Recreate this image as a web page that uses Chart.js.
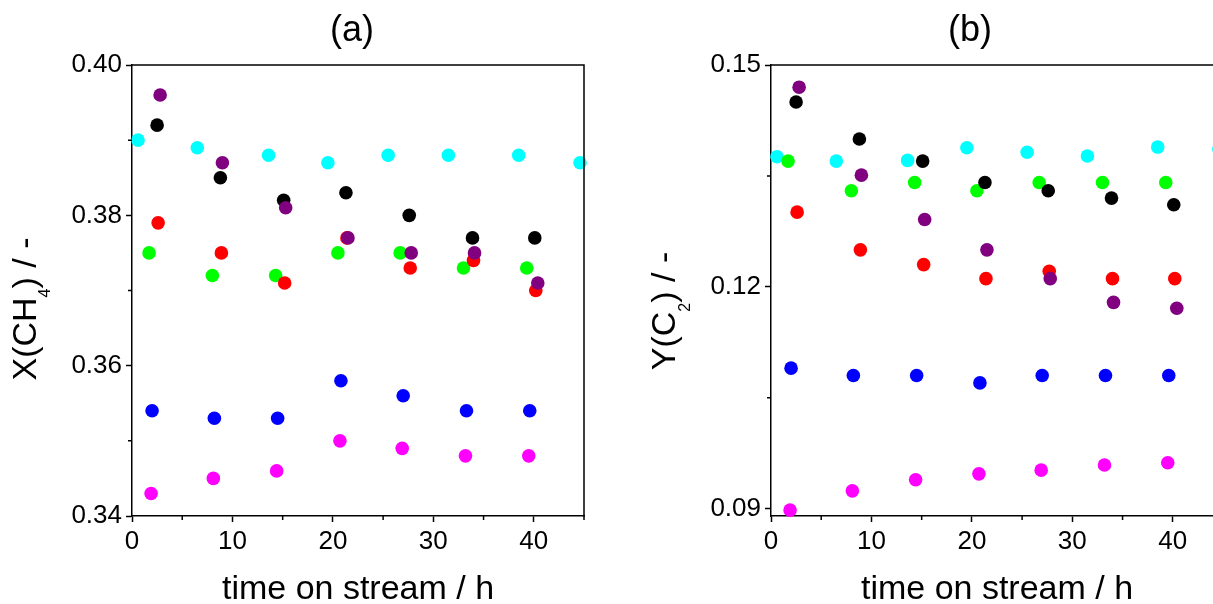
<!DOCTYPE html>
<html>
<head>
<meta charset="utf-8">
<script src="https://cdn.jsdelivr.net/npm/chart.js@4.4.1/dist/chart.umd.min.js"></script>
<style>
  html, body { margin: 0; padding: 0; background: #fff; overflow: hidden; }
  body { width: 1213px; height: 604px; position: relative; }
  .panel { position: absolute; top: 0; width: 600px; height: 604px; }
  #panel-a { left: 0; }
  #panel-b { left: 639px; }
</style>
</head>
<body>
<div class="panel" id="panel-a"><canvas id="chart-a" width="600" height="604"></canvas></div>
<div class="panel" id="panel-b"><canvas id="chart-b" width="600" height="604"></canvas></div>
<script>
// time on stream (h), one array per catalyst series, shared by both panels
const cyanTime    = [0.6, 6.5, 13.6, 19.5, 25.5, 31.5, 38.5, 44.6];
const blackTime   = [2.5, 8.8, 15.1, 21.3, 27.6, 33.9, 40.1];
const purpleTime  = [2.8, 9.0, 15.3, 21.5, 27.8, 34.1, 40.4];
const redTime     = [2.6, 8.9, 15.2, 21.4, 27.7, 34.0, 40.2];
const greenTime   = [1.7, 8.0, 14.3, 20.5, 26.7, 33.0, 39.3];
const blueTime    = [2.0, 8.2, 14.5, 20.8, 27.0, 33.3, 39.6];
const magentaTime = [1.9, 8.1, 14.4, 20.7, 26.9, 33.2, 39.5];

// (a) methane conversion X(CH4)
const cyanX    = [0.390, 0.389, 0.388, 0.387, 0.388, 0.388, 0.388, 0.387];
const blackX   = [0.392, 0.385, 0.382, 0.383, 0.380, 0.377, 0.377];
const purpleX  = [0.396, 0.387, 0.381, 0.377, 0.375, 0.375, 0.371];
const redX     = [0.379, 0.375, 0.371, 0.377, 0.373, 0.374, 0.370];
const greenX   = [0.375, 0.372, 0.372, 0.375, 0.375, 0.373, 0.373];
const blueX    = [0.354, 0.353, 0.353, 0.358, 0.356, 0.354, 0.354];
const magentaX = [0.343, 0.345, 0.346, 0.350, 0.349, 0.348, 0.348];

// (b) C2 yield Y(C2)
const cyanY    = [0.1376, 0.1370, 0.1371, 0.1388, 0.1382, 0.1377, 0.1389, 0.1386];
const blackY   = [0.1450, 0.1400, 0.1370, 0.1341, 0.1330, 0.1320, 0.1311];
const purpleY  = [0.1470, 0.1351, 0.1291, 0.1250, 0.1211, 0.1179, 0.1171];
const redY     = [0.1301, 0.1250, 0.1230, 0.1211, 0.1221, 0.1211, 0.1211];
const greenY   = [0.1370, 0.1330, 0.1341, 0.1330, 0.1341, 0.1341, 0.1341];
const blueY    = [0.1090, 0.1080, 0.1080, 0.1070, 0.1080, 0.1080, 0.1080];
const magentaY = [0.0898, 0.0924, 0.0939, 0.0947, 0.0952, 0.0959, 0.0962];

// ticks
const xTicks = [0, 10, 20, 30, 40];
const xMinorTicks = [5, 15, 25, 35, 45];
const yTicksA = [0.34, 0.36, 0.38, 0.40];
const yMinorTicksA = [0.35, 0.37, 0.39];
const yTicksB = [0.09, 0.12, 0.15];
const yMinorTicksB = [0.105, 0.135];

const FONT = '"Liberation Sans", Arial, sans-serif';
Chart.defaults.font.family = FONT;
Chart.defaults.color = '#000';

function points(times, values) {
  return times.map((t, i) => ({ x: t, y: values[i] }));
}

function dataset(times, values, color) {
  return {
    data: points(times, values),
    backgroundColor: color,
    borderWidth: 0,
    pointRadius: 6.8,
    pointHoverRadius: 6.8,
    clip: false,
  };
}

// purple first so it sits on top, like in the figure
function buildDatasets(purple, red, black, green, cyan, blue, magenta) {
  return [
    dataset(purpleTime, purple, '#800080'),
    dataset(redTime, red, '#ff0000'),
    dataset(blackTime, black, '#000000'),
    dataset(greenTime, green, '#00ff00'),
    dataset(cyanTime, cyan, '#00ffff'),
    dataset(blueTime, blue, '#0000ff'),
    dataset(magentaTime, magenta, '#ff00ff'),
  ];
}

const framePlugin = {
  id: 'frame',
  afterDraw(chart, args, opts) {
    const { ctx, chartArea: a, scales } = chart;
    ctx.save();
    ctx.strokeStyle = '#000';
    ctx.lineWidth = 1.5;

    // top and right sides of the box
    ctx.beginPath();
    ctx.moveTo(a.left, a.top);
    ctx.lineTo(a.right, a.top);
    ctx.lineTo(a.right, a.bottom);
    ctx.stroke();

    // minor ticks
    ctx.beginPath();
    opts.xMinor.forEach(v => {
      const px = scales.x.getPixelForValue(v);
      ctx.moveTo(px, a.bottom);
      ctx.lineTo(px, a.bottom + 4);
    });
    opts.yMinor.forEach(v => {
      const py = scales.y.getPixelForValue(v);
      ctx.moveTo(a.left, py);
      ctx.lineTo(a.left - 4, py);
    });
    ctx.stroke();

    ctx.fillStyle = '#000';
    ctx.textBaseline = 'alphabetic';

    // panel label
    ctx.textAlign = 'center';
    ctx.font = '36px ' + FONT;
    ctx.fillText(opts.label, opts.labelX, 41);

    // x title
    ctx.font = '34px ' + FONT;
    ctx.fillText('time on stream / h', (a.left + a.right) / 2, 599);

    // y title with subscript
    const parts = opts.yTitle;
    let total = 0;
    parts.forEach(p => {
      ctx.font = p.size + 'px ' + FONT;
      p.w = ctx.measureText(p.text).width;
      total += p.w;
    });
    ctx.translate(36, opts.yTitleCenter);
    ctx.rotate(-Math.PI / 2);
    ctx.textAlign = 'left';
    let x = -total / 2;
    parts.forEach(p => {
      ctx.font = p.size + 'px ' + FONT;
      ctx.fillText(p.text, x, p.dy);
      x += p.w;
    });
    ctx.restore();
  }
};

function makeChart(id, datasets, yMin, yMax, yTicks, yMinor, label, labelX, yTitle, yTitleCenter) {
  return new Chart(document.getElementById(id), {
    type: 'scatter',
    data: { datasets },
    options: {
      responsive: false,
      animation: false,
      events: [],
      layout: { padding: { top: 65, right: 16, left: 0, bottom: 0 } },
      plugins: {
        legend: { display: false },
        tooltip: { enabled: false },
        frame: { xMinor: xMinorTicks, yMinor, label, labelX, yTitle, yTitleCenter },
      },
      scales: {
        x: {
          type: 'linear',
          min: 0,
          max: 45,
          afterBuildTicks: s => { s.ticks = xTicks.map(v => ({ value: v })); },
          afterFit: s => { s.height = 88; },
          ticks: { font: { size: 26 }, color: '#000', padding: 4, maxRotation: 0, autoSkip: false },
          grid: { drawOnChartArea: false, tickLength: 6, tickColor: '#000', tickWidth: 1.5 },
          border: { color: '#000', width: 1.5 },
        },
        y: {
          type: 'linear',
          min: yMin,
          max: yMax,
          afterBuildTicks: s => { s.ticks = yTicks.map(v => ({ value: v })); },
          afterFit: s => { s.width = 132; },
          ticks: {
            font: { size: 26 }, color: '#000', padding: 4, autoSkip: false,
            callback: v => v.toFixed(2),
          },
          grid: { drawOnChartArea: false, tickLength: 6, tickColor: '#000', tickWidth: 1.5 },
          border: { color: '#000', width: 1.5 },
        },
      },
    },
    plugins: [framePlugin],
  });
}

makeChart('chart-a',
  buildDatasets(purpleX, redX, blackX, greenX, cyanX, blueX, magentaX),
  0.34, 0.40, yTicksA, yMinorTicksA, '(a)', 352,
  [{ text: 'X(CH', size: 34, dy: 0 }, { text: '4', size: 16, dy: 14 }, { text: ') / -', size: 34, dy: 0 }],
  309);

makeChart('chart-b',
  buildDatasets(purpleY, redY, blackY, greenY, cyanY, blueY, magentaY),
  0.089, 0.15, yTicksB, yMinorTicksB, '(b)', 331,
  [{ text: 'Y(C', size: 34, dy: 0 }, { text: '2', size: 16, dy: 15 }, { text: ') / -', size: 34, dy: 0 }],
  311);
</script>
</body>
</html>
